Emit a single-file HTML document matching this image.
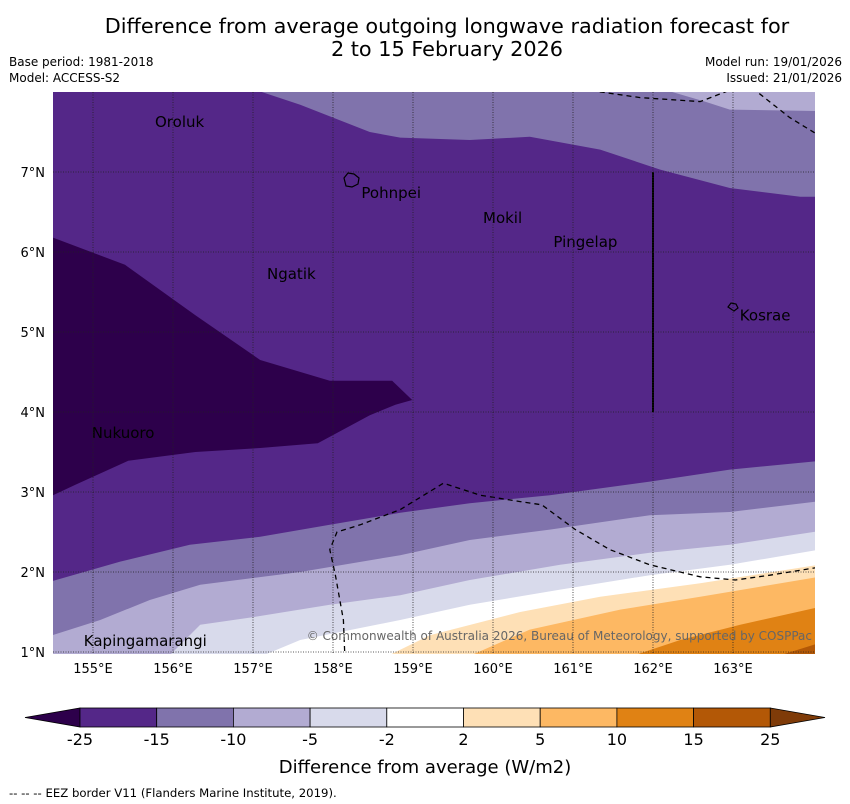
<!DOCTYPE html>
<html><head><meta charset="utf-8"><style>
body{margin:0;width:850px;height:804px;background:#fff;font-family:"DejaVu Sans","Liberation Sans",sans-serif;overflow:hidden}
svg{position:absolute;left:0;top:0}
</style></head><body>
<svg id="c" width="850" height="804">
<text x="447" y="33" font-size="20.8" text-anchor="middle">Difference from average outgoing longwave radiation forecast for</text>
<text x="447" y="56" font-size="20.8" text-anchor="middle">2 to 15 February 2026</text>
<text x="9" y="66" font-size="12">Base period: 1981-2018</text>
<text x="9" y="82" font-size="12">Model: ACCESS-S2</text>
<text x="842" y="66" font-size="12" text-anchor="end">Model run: 19/01/2026</text>
<text x="842" y="82" font-size="12" text-anchor="end">Issued: 21/01/2026</text>
<defs><clipPath id="mc"><rect x="53" y="92" width="762" height="562"/></clipPath></defs>
<g id="map" clip-path="url(#mc)"></g>
<g id="axes"></g>
<g id="cbar"></g>
<text x="425" y="773" font-size="18" text-anchor="middle">Difference from average (W/m2)</text>
<text x="9" y="797" font-size="11.7">--  --  -- EEZ border V11 (Flanders Marine Institute, 2019).</text>
</svg>
<script>
const levels=[-25,-15,-10,-5,-2,2,5,10,15,25];
const colors=["#542788","#8073ac","#b2abd2","#d8daeb","#ffffff","#fee0b6","#fdb863","#e08214","#b35806"];
const lowColor="#2d004b", highColor="#7f3b08";
const lonTicks=[155,156,157,158,159,160,161,162,163];
const latTicks=[1,2,3,4,5,6,7];
// contour boundaries [lon,lat]
const topM15=[[157.11,8],[157.59,7.84],[158.46,7.5],[158.84,7.43],[159.71,7.4],[160.46,7.44],[161.34,7.28],[162.09,7.03],[162.96,6.8],[163.84,6.69],[164.2,6.69]];
const topM10=[[162.24,8],[162.65,7.88],[162.96,7.78],[164.2,7.76]];
const darkM25=[[154.5,6.18],[155.4,5.84],[156.28,5.21],[157.09,4.65],[157.96,4.39],[158.74,4.39],[158.99,4.15],[158.78,4.09],[158.46,3.96],[157.81,3.61],[157.09,3.55],[156.28,3.5],[155.44,3.39],[154.78,3.09],[154.5,2.96]];
const bM15=[[154.4,1.86],[155.34,2.13],[156.21,2.34],[157.09,2.44],[157.96,2.59],[158.84,2.74],[159.71,2.86],[160.71,2.96],[161.96,3.13],[162.96,3.28],[164.2,3.4]];
const bM10=[[154.4,1.18],[155.09,1.4],[155.71,1.65],[156.34,1.84],[157.59,2.0],[158.84,2.21],[159.71,2.4],[160.71,2.53],[161.96,2.71],[162.96,2.75],[164.2,2.9]];
const bM5=[[155.9,0.9],[156.34,1.34],[157.03,1.44],[157.96,1.59],[158.84,1.71],[159.71,1.9],[160.84,2.09],[161.96,2.24],[162.96,2.34],[164.2,2.53]];
const bM2=[[156.99,0.9],[157.59,1.15],[158.84,1.4],[159.71,1.59],[160.84,1.78],[161.96,1.96],[162.96,2.09],[164.2,2.3]];
const bP2=[[158.58,0.9],[159.21,1.21],[160.34,1.5],[161.34,1.69],[162.59,1.86],[164.2,2.11]];
const bP5=[[159.59,0.9],[160.46,1.28],[161.59,1.53],[162.59,1.69],[164.2,1.96]];
const bP10=[[161.59,0.9],[162.34,1.15],[163.09,1.34],[164.2,1.59]];
const bP15=[[163.4,0.9],[164.2,1.15]];
const eez1=[[158.15,0.9],[158.13,1.4],[158.03,1.96],[157.96,2.28],[158.05,2.5],[158.34,2.59],[158.84,2.78],[159.38,3.11],[159.84,2.96],[160.34,2.88],[160.61,2.84],[161.03,2.53],[161.46,2.28],[161.96,2.09],[162.59,1.94],[163.03,1.9],[163.46,1.96],[164.2,2.08]];
const eez2=[[161.0,8.05],[161.84,7.93],[162.59,7.88],[163.03,8.05]];
const eez3=[[163.24,8.05],[163.71,7.68],[164.2,7.38]];
const places=["Oroluk","Pohnpei","Mokil","Pingelap","Ngatik","Kosrae","Nukuoro","Kapingamarangi"];
const placeLon=[155.75,158.33,159.85,160.73,157.15,163.06,154.96,154.86];
const placeLat=[7.7,6.81,6.5,6.2,5.8,5.28,3.81,1.21];
const X=lon=>53+(lon-154.5)*80, Y=lat=>92+(8-lat)*80;
const NS="http://www.w3.org/2000/svg";
function mk(t,a,p){const e=document.createElementNS(NS,t);for(const k in a)e.setAttribute(k,a[k]);p.appendChild(e);return e;}
const pts=a=>a.map(p=>X(p[0]).toFixed(1)+","+Y(p[1]).toFixed(1)).join(" ");
const map=document.getElementById("map");
let e=mk("rect",{x:53,y:92,width:762,height:562,fill:colors[0]},map);


function band(line,extra,fill,name){const el=mk("polygon",{points:pts(line.concat(extra)),fill:fill},map);

}
band(topM15,[[164.2,8.1],[157.11,8.1]],colors[1],"band-top-minus15");
band(topM10,[[164.2,8.1],[162.24,8.1]],colors[2],"band-top-minus10");
band(darkM25,[],lowColor,"band-below-minus25");
const bottoms=[[bM15,1],[bM10,2],[bM5,3],[bM2,4],[bP2,5],[bP5,6],[bP10,7],[bP15,8]];
bottoms.forEach(([l,i])=>band(l,[[164.2,0.9],[l[0][0],0.9]],colors[i],"band-level-"+levels[i]));
// grid
const ax=document.getElementById("axes");
lonTicks.forEach(l=>{const g=mk("line",{x1:X(l),x2:X(l),y1:92,y2:654,stroke:"#222", "stroke-width":0.8,"stroke-dasharray":"1,1.5"},ax);


const t=mk("text",{x:X(l),y:673,"font-size":13,"text-anchor":"middle"},ax);t.textContent=l+"°E";

});
latTicks.forEach(l=>{const g=mk("line",{x1:53,x2:815,y1:Y(l),y2:Y(l),stroke:"#222","stroke-width":0.8,"stroke-dasharray":"1,1.5"},ax);


const t=mk("text",{x:45,y:Y(l)+5,"font-size":13,"text-anchor":"end"},ax);t.textContent=l+"°N";

});
[eez1,eez2,eez3].forEach(l=>{const p=mk("polyline",{points:pts(l),fill:"none",stroke:"#000","stroke-width":1.3,"stroke-dasharray":"5,4"},map);

});
e=mk("line",{x1:X(162),x2:X(162),y1:Y(7),y2:Y(4),stroke:"#000","stroke-width":2},map);


e=mk("path",{d:"M344,178 l4,-5 l6,1 l5,4 l-1,6 l-6,3 l-6,-1 z",fill:"none",stroke:"#000","stroke-width":1.2},map);


e=mk("path",{d:"M728,307 l3,-4 l5,1 l2,4 l-4,3 z",fill:"none",stroke:"#000","stroke-width":1.2},map);


places.forEach((n,i)=>{const t=mk("text",{x:X(placeLon[i])+2,y:Y(placeLat[i])+11,"font-size":15},map);t.textContent=n;

});
e=mk("text",{x:812,y:640,"font-size":12,"text-anchor":"end",fill:"#666"},map);e.textContent="© Commonwealth of Australia 2026, Bureau of Meteorology, supported by COSPPac";


// colorbar
const cb=document.getElementById("cbar");
const cx0=80,cw=76.7,cy=708,ch=19;
e=mk("polygon",{points:`25,${cy+ch/2} ${cx0},${cy} ${cx0},${cy+ch}`,fill:lowColor,stroke:"#000","stroke-width":0.8},cb);


colors.forEach((c,i)=>{const r=mk("rect",{x:cx0+i*cw,y:cy,width:cw,height:ch,fill:c,stroke:"#000","stroke-width":0.8},cb);

});
e=mk("polygon",{points:`${cx0+9*cw},${cy} 825,${cy+ch/2} ${cx0+9*cw},${cy+ch}`,fill:highColor,stroke:"#000","stroke-width":0.8},cb);


levels.forEach((l,i)=>{const t=mk("text",{x:cx0+i*cw,y:745,"font-size":16,"text-anchor":"middle"},cb);t.textContent=l;

});
</script>
</body></html>
